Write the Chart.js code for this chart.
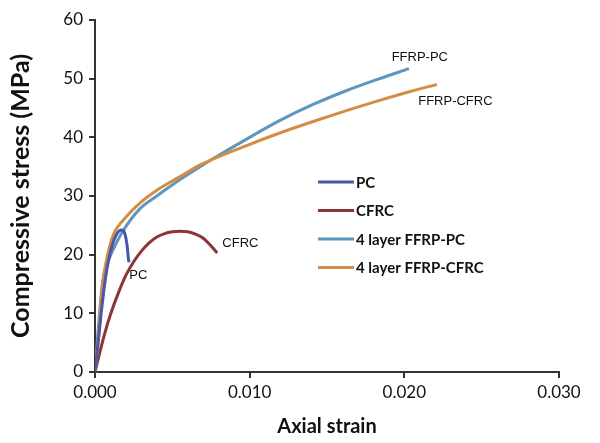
<!DOCTYPE html>
<html>
<head>
<meta charset="utf-8">
<script src="https://cdn.jsdelivr.net/npm/chart.js@4.4.1/dist/chart.umd.min.js"></script>
<style>
  html, body { margin: 0; padding: 0; background: #fff; }
  #box { width: 600px; height: 443px; }
</style>
</head>
<body>
<div id="box"><canvas id="grafico"></canvas></div>
<script>
// series: axial strain / compressive stress (MPa)
const pcStrain = [0, 0.0002, 0.0004, 0.0006, 0.0008, 0.0011, 0.0014, 0.0017, 0.0019, 0.0020, 0.0021, 0.00215, 0.0022]
const pcStress = [0, 5, 10, 14.5, 18, 21.5, 23.5, 24.2, 23.8, 22.8, 21, 19.5, 18.7]

const cfrcStrain = [0, 0.0003, 0.0006, 0.0010, 0.0015, 0.0020, 0.0025, 0.0030, 0.0035, 0.0040, 0.0045, 0.0050, 0.0055, 0.0060, 0.0065, 0.0070, 0.0075, 0.0079]
const cfrcStress = [0, 3.2, 6.3, 9.8, 13.4, 16.5, 18.8, 20.6, 22, 23, 23.6, 23.9, 24, 23.9, 23.5, 22.8, 21.5, 20.3]

const ffrpPcStrain = [0, 0.0002, 0.0005, 0.0008, 0.0012, 0.0018, 0.0029, 0.0040, 0.0055, 0.0068, 0.0076, 0.0098, 0.0119, 0.0141, 0.0162, 0.0184, 0.0203]
const ffrpPcStress = [0, 7, 15.5, 18.5, 21, 24, 27.8, 30.0, 32.8, 35.0, 36.3, 39.7, 42.8, 45.6, 47.9, 50, 51.7]

const ffrpCfrcStrain = [0, 0.0002, 0.0004, 0.0006, 0.0008, 0.0012, 0.0018, 0.0029, 0.0040, 0.0055, 0.0068, 0.0098, 0.0119, 0.0141, 0.0162, 0.0184, 0.0205, 0.0221]
const ffrpCfrcStress = [0, 5, 12.5, 17, 19.8, 23.5, 25.8, 28.8, 31, 33.3, 35.3, 38.6, 40.7, 42.7, 44.5, 46.3, 47.9, 49]

const seriesNames = ['PC', 'CFRC', '4 layer FFRP-PC', '4 layer FFRP-CFRC']
const seriesColors = ['#4a56a8', '#8c3438', '#5e96bd', '#d48d44']

const xTicks = [0, 0.01, 0.02, 0.03]
const yTicks = [0, 10, 20, 30, 40, 50, 60]

// curve end labels
const curveLabels = ['FFRP-PC', 'FFRP-CFRC', 'CFRC', 'PC']
const curveLabelX = [0.0210, 0.0233, 0.0094, 0.0028]
const curveLabelY = [53.7, 46.2, 22.0, 16.4]

function pontos(xs, ys) {
    return xs.map((x, i) => ({ x: x, y: ys[i] }))
}

const series = [
    pontos(pcStrain, pcStress),
    pontos(cfrcStrain, cfrcStress),
    pontos(ffrpPcStrain, ffrpPcStress),
    pontos(ffrpCfrcStrain, ffrpCfrcStress)
]

// draw order: FFRP-PC below FFRP-CFRC, PC on top
const drawOrder = [0, 3, 2, 1]

const datasets = series.map((d, i) => ({
    label: seriesNames[i],
    data: d,
    borderColor: seriesColors[i],
    backgroundColor: seriesColors[i],
    borderWidth: 3,
    pointRadius: 0,
    showLine: true,
    cubicInterpolationMode: 'monotone',
    order: drawOrder[i]
}))

const textosPlugin = {
    id: 'textos',
    afterDatasetsDraw(chart) {
        const ctx = chart.ctx
        const sx = chart.scales.x
        const sy = chart.scales.y
        ctx.save()

        // labels next to curves
        ctx.fillStyle = '#111'
        ctx.font = '13px "Liberation Sans", Arial, sans-serif'
        ctx.textAlign = 'center'
        ctx.textBaseline = 'middle'
        curveLabels.forEach((t, i) => {
            ctx.fillText(t, sx.getPixelForValue(curveLabelX[i]), sy.getPixelForValue(curveLabelY[i]))
        })

        // legend inside the plot
        const lx = 318, ly = 182, gap = 28.5
        ctx.font = 'bold 15px Lato, sans-serif'
        ctx.textAlign = 'left'
        seriesNames.forEach((n, i) => {
            const y = ly + i * gap
            ctx.strokeStyle = seriesColors[i]
            ctx.lineWidth = 3
            ctx.beginPath()
            ctx.moveTo(lx, y)
            ctx.lineTo(lx + 36, y)
            ctx.stroke()
            ctx.fillText(n, lx + 38, y + 1)
        })
        ctx.restore()
    }
}

new Chart(document.getElementById('grafico'), {
    type: 'scatter',
    data: { datasets: datasets },
    options: {
        responsive: true,
        maintainAspectRatio: false,
        animation: false,
        layout: { padding: { top: 20, right: 41, left: 6, bottom: 4 } },
        plugins: {
            legend: { display: false },
            tooltip: { enabled: false }
        },
        scales: {
            x: {
                type: 'linear',
                min: 0,
                max: 0.03,
                afterBuildTicks: (axis) => { axis.ticks = xTicks.map(v => ({ value: v })) },
                afterFit: (axis) => { axis.height = 67 },
                border: { display: true, color: '#333', width: 2 },
                grid: { drawOnChartArea: false, drawTicks: true, tickLength: 6, color: '#333', lineWidth: 2 },
                ticks: {
                    color: '#111',
                    font: { family: 'Lato', size: 17 },
                    padding: 4,
                    maxRotation: 0,
                    callback: (v) => v.toFixed(3)
                },
                title: {
                    display: true,
                    text: 'Axial strain',
                    color: '#111',
                    font: { family: 'Lato', size: 20, weight: 'bold' },
                    padding: { top: 8, bottom: 0 }
                }
            },
            y: {
                min: 0,
                max: 60,
                afterBuildTicks: (axis) => { axis.ticks = yTicks.map(v => ({ value: v })) },
                afterFit: (axis) => { axis.width = 89 },
                border: { display: true, color: '#333', width: 2 },
                grid: { drawOnChartArea: false, drawTicks: true, tickLength: 6, color: '#333', lineWidth: 2 },
                ticks: {
                    color: '#111',
                    font: { family: 'Lato', size: 17 },
                    padding: 6
                },
                title: {
                    display: true,
                    text: 'Compressive stress (MPa)',
                    color: '#111',
                    font: { family: 'Lato', size: 25, weight: 'bold' },
                    padding: { top: 0, bottom: 8 }
                }
            }
        }
    },
    plugins: [textosPlugin]
})
</script>
</body>
</html>
